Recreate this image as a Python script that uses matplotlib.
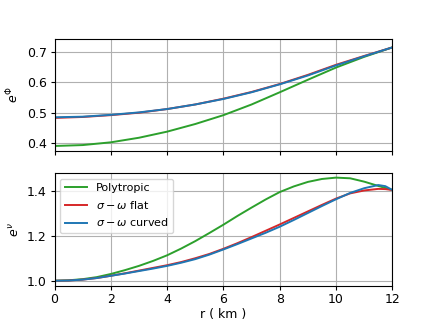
import matplotlib
matplotlib.use("Agg")
import matplotlib.pyplot as plt

r_top = [0, 1, 2, 3, 4, 5, 6, 7, 8, 9, 10, 11, 12]
phi_poly = [0.391, 0.394, 0.403, 0.418, 0.438, 0.463, 0.492, 0.527, 0.567, 0.608, 0.648, 0.683, 0.714]
phi_flat = [0.483, 0.486, 0.492, 0.500, 0.512, 0.527, 0.546, 0.568, 0.594, 0.624, 0.657, 0.686, 0.714]
phi_curved = [0.485, 0.487, 0.493, 0.501, 0.512, 0.527, 0.545, 0.567, 0.593, 0.622, 0.655, 0.685, 0.714]

r_bot = [0, 0.5, 1, 1.5, 2, 2.5, 3, 3.5, 4, 4.5, 5, 5.5, 6, 6.5, 7, 7.5, 8,
         8.5, 9, 9.5, 10, 10.5, 11, 11.5, 11.75, 12]
nu_poly = [1.000, 1.002, 1.007, 1.016, 1.030, 1.047, 1.066, 1.088, 1.113, 1.143, 1.176,
           1.212, 1.249, 1.288, 1.325, 1.361, 1.394, 1.419, 1.439, 1.452, 1.458, 1.455,
           1.440, 1.421, 1.412, 1.403]
nu_flat = [1.000, 1.001, 1.005, 1.012, 1.022, 1.033, 1.045, 1.057, 1.069, 1.083, 1.100,
           1.119, 1.142, 1.167, 1.194, 1.222, 1.250, 1.279, 1.308, 1.337, 1.365, 1.388,
           1.401, 1.408, 1.407, 1.403]
nu_curved = [1.000, 1.001, 1.005, 1.012, 1.022, 1.032, 1.043, 1.054, 1.066, 1.080, 1.096,
             1.116, 1.139, 1.163, 1.188, 1.213, 1.240, 1.270, 1.301, 1.332, 1.362, 1.390,
             1.411, 1.425, 1.420, 1.403]

labels = ["Polytropic", r"$\sigma-\omega$ flat", r"$\sigma-\omega$ curved"]
colors = ["#2ca02c", "#d62728", "#1f77b4"]

plt.rcParams["font.size"] = 9
plt.rcParams["legend.fontsize"] = 8
plt.rcParams["xtick.major.size"] = 3
plt.rcParams["ytick.major.size"] = 3
plt.rcParams["xtick.major.pad"] = 2.5
plt.rcParams["ytick.major.pad"] = 2.5
plt.rcParams["axes.labelpad"] = 1.5

fig, (ax1, ax2) = plt.subplots(2, 1, sharex=True, figsize=(4.36, 3.21), dpi=100)

for y, c, l in zip([phi_poly, phi_flat, phi_curved], colors, labels):
    ax1.plot(r_top, y, color=c, label=l, lw=1.4)
for y, c, l in zip([nu_poly, nu_flat, nu_curved], colors, labels):
    ax2.plot(r_bot, y, color=c, label=l, lw=1.4)

ax1.set_xlim(0, 12)
ax1.set_ylim(0.375, 0.743)
ax2.set_ylim(0.978, 1.477)
ax1.set_yticks([0.4, 0.5, 0.6, 0.7])
ax2.set_yticks([1.0, 1.2, 1.4])
ax2.set_xticks([0, 2, 4, 6, 8, 10, 12])
ax1.set_ylabel(r"$e^{\Phi}$", labelpad=4)
ax2.set_ylabel(r"$e^{\nu}$", labelpad=4)
ax2.set_xlabel("r ( km )")
for ax in (ax1, ax2):
    ax.grid(True)
ax2.legend(loc="upper left")

fig.savefig("out.png", dpi=100)
